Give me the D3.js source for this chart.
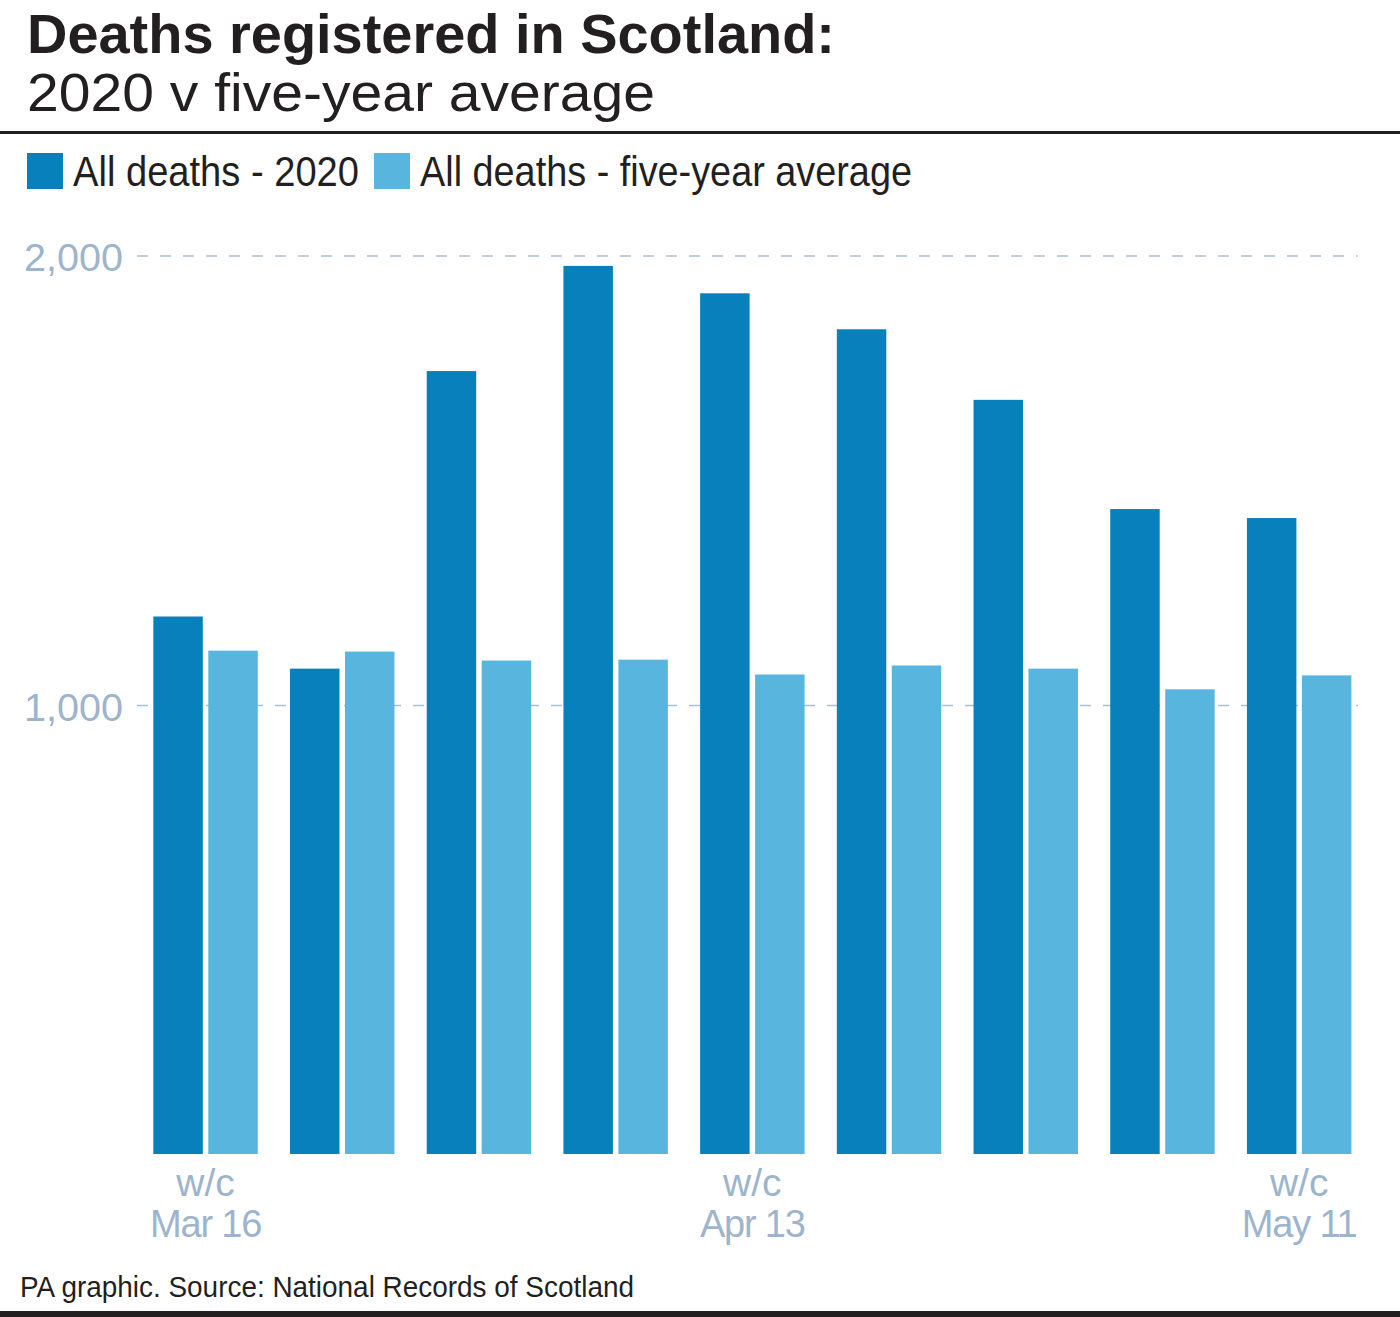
<!DOCTYPE html>
<html>
<head>
<meta charset="utf-8">
<script src="https://cdn.jsdelivr.net/npm/d3@7"></script>
<style>
  html, body { margin: 0; padding: 0; background: #fff; }
  svg { display: block; }
  text { font-family: "Liberation Sans", Arial, sans-serif; }
</style>
</head>
<body>
<svg id="chart" width="1400" height="1317"></svg>
<script>
// ---- data ----
const weeks = ["Mar 16", "Mar 23", "Mar 30", "Apr 6", "Apr 13", "Apr 20", "Apr 27", "May 4", "May 11"];
const deaths2020 = [1198, 1082, 1744, 1978, 1917, 1837, 1680, 1437, 1417];
const deathsAvg = [1122, 1120, 1100, 1102, 1069, 1089, 1082, 1036, 1067];
const seriesNames = ["All deaths - 2020", "All deaths - five-year average"];
const yTicks = [1000, 2000];
const labelledWeeks = ["Mar 16", "Apr 13", "May 11"];

const colors = ["#0780bb", "#58b5de"];
const labelColor = "#9db4cd";
const inkColor = "#231f20";

const svg = d3.select("#chart");
const W = 1400, H = 1317;

// squeeze/stretch text to a target width
function fit(sel, target) {
  sel.attr("textLength", target).attr("lengthAdjust", "spacingAndGlyphs");
  return sel;
}

// ---- title ----
fit(svg.append("text").attr("x", 27).attr("y", 53)
  .attr("font-size", 56).attr("font-weight", "bold").attr("fill", inkColor)
  .text("Deaths registered in Scotland:"), 808);
fit(svg.append("text").attr("x", 27).attr("y", 111)
  .attr("font-size", 54).attr("fill", inkColor)
  .text("2020 v five-year average"), 628);

svg.append("rect").attr("x", 0).attr("y", 131).attr("width", W).attr("height", 3).attr("fill", inkColor);

// ---- legend ----
const legendX = [27, 374];
const legendW = [286, 492];
seriesNames.forEach((name, i) => {
  svg.append("rect").attr("x", legendX[i]).attr("y", 153).attr("width", 36).attr("height", 36).attr("fill", colors[i]);
  fit(svg.append("text").attr("x", legendX[i] + 46).attr("y", 186)
    .attr("font-size", 42).attr("fill", inkColor).text(name), legendW[i]);
});

// ---- scales ----
const x0 = d3.scaleBand().domain(weeks).range([137.2, 1367.5]).paddingInner(0.236).paddingOuter(0.118);
const x1 = d3.scaleBand().domain([0, 1]).range([0, x0.bandwidth()]).paddingInner(0.1);
const y = d3.scaleLinear().domain([0, 2000]).range([1155, 256]);

// gridlines + y labels
const grid = svg.append("g");
yTicks.forEach(t => {
  grid.append("line").attr("x1", 137).attr("x2", 1358)
    .attr("y1", y(t)).attr("y2", y(t))
    .attr("stroke", "#a9bfd2").attr("stroke-width", 1.6)
    .attr("stroke-dasharray", "11,12");
  fit(svg.append("text").attr("x", 24).attr("y", y(t) + 15)
    .attr("font-size", 39).attr("fill", labelColor)
    .text(d3.format(",")(t)), 99);
});

// bars
const rows = weeks.map((w, i) => ({ w, vals: [deaths2020[i], deathsAvg[i]] }));
const g = svg.append("g");
g.selectAll("g").data(rows).join("g")
  .attr("transform", d => `translate(${x0(d.w)},0)`)
  .selectAll("rect").data(d => d.vals.map((v, k) => ({ v, k }))).join("rect")
  .attr("x", d => x1(d.k))
  .attr("width", x1.bandwidth())
  .attr("y", d => y(d.v))
  .attr("height", d => y(0) - y(d.v) - 1)
  .attr("fill", d => colors[d.k]);

// x labels
labelledWeeks.forEach(w => {
  const cx = x0(w) + x0.bandwidth() / 2;
  svg.append("text").attr("x", cx).attr("y", 1196).attr("text-anchor", "middle")
    .attr("font-size", 39).attr("fill", labelColor).text("w/c");
  svg.append("text").attr("x", cx).attr("y", 1237).attr("text-anchor", "middle")
    .attr("font-size", 38).attr("letter-spacing", -1.2).attr("fill", labelColor).text(w);
});

// footer
fit(svg.append("text").attr("x", 20).attr("y", 1297)
  .attr("font-size", 30).attr("fill", inkColor)
  .text("PA graphic. Source: National Records of Scotland"), 614);
svg.append("rect").attr("x", 0).attr("y", 1311).attr("width", W).attr("height", 6).attr("fill", inkColor);
</script>
</body>
</html>
